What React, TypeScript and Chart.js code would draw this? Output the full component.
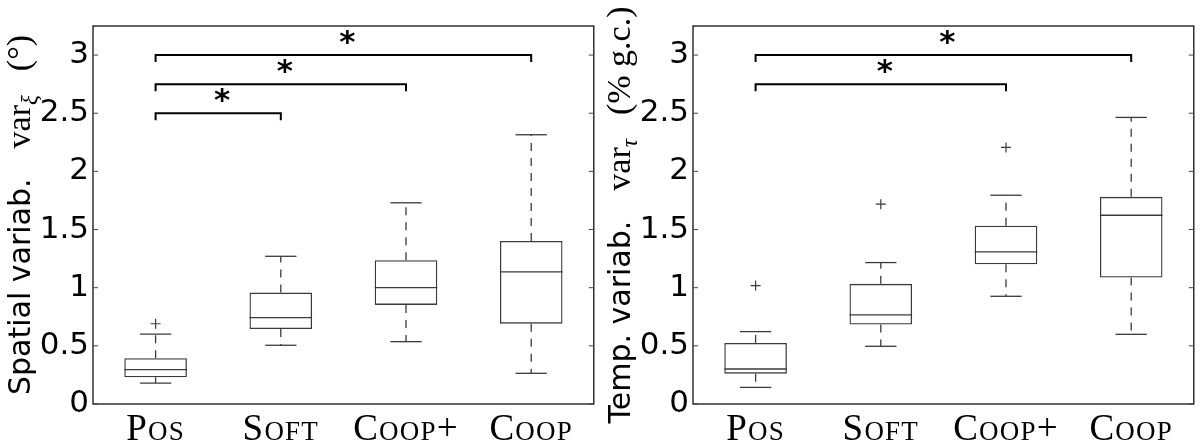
import React, { useEffect, useRef } from 'react';
import { Chart, registerables } from 'chart.js';

Chart.register(...registerables);

// ---------- data ----------
const categories = ['Pos', 'Soft', 'Coop+', 'Coop'];
const yTickValues = [0, 0.5, 1, 1.5, 2, 2.5, 3];
const yMin = 0;
const yMax = 3.25;

// Spatial variability (left panel)
const spatialLower = [0.18, 0.505, 0.536, 0.264];
const spatialQ1 = [0.23, 0.645, 0.852, 0.691];
const spatialMedian = [0.295, 0.743, 1.0, 1.136];
const spatialQ3 = [0.393, 0.958, 1.236, 1.402];
const spatialUpper = [0.6, 1.27, 1.73, 2.315];
const spatialOutliers = [{ x: 'Pos', y: 0.69 }];
const spatialSigFrom = [0, 0, 0];
const spatialSigTo = [1, 2, 3];
const spatialSigLevel = [2.5, 2.75, 3.0];
const spatialTitle = ['Spatial variab.', 'var', 'ξ', '(°)'];

// Temporal variability (right panel)
const temporalLower = [0.143, 0.496, 0.926, 0.599];
const temporalQ1 = [0.261, 0.683, 1.202, 1.087];
const temporalMedian = [0.301, 0.766, 1.308, 1.623];
const temporalQ3 = [0.525, 1.033, 1.532, 1.781];
const temporalUpper = [0.622, 1.216, 1.795, 2.464];
const temporalOutliers = [
  { x: 'Pos', y: 1.018 },
  { x: 'Soft', y: 1.718 },
  { x: 'Coop+', y: 2.206 },
];
const temporalSigFrom = [0, 0];
const temporalSigTo = [2, 3];
const temporalSigLevel = [2.75, 3.0];
const temporalTitle = ['Temp. variab.', 'var', 'τ', '(% g.c.)'];

// ---------- styles ----------
const BOX_COLOR = '#3a3a3a';
const SANS = "'DejaVu Sans', sans-serif";
const SERIF = "'Liberation Serif', serif";

function line(ctx: CanvasRenderingContext2D, x1: number, y1: number, x2: number, y2: number) {
  ctx.beginPath();
  ctx.moveTo(x1, y1);
  ctx.lineTo(x2, y2);
  ctx.stroke();
}

// draw a label in synthesized small caps, centred on cx
function drawSmallCaps(ctx: CanvasRenderingContext2D, text: string, cx: number, baseline: number) {
  const big = `37px ${SERIF}`;
  const small = `27px ${SERIF}`;
  const segs = Array.from(text).map((ch) => {
    const isLower = ch.toLowerCase() === ch && ch.toUpperCase() !== ch;
    return { ch: isLower ? ch.toUpperCase() : ch, font: isLower ? small : big };
  });
  let total = 0;
  const ws: number[] = [];
  for (const s of segs) {
    ctx.font = s.font;
    const w = ctx.measureText(s.ch).width + 1.2;
    ws.push(w);
    total += w;
  }
  let x = cx - total / 2;
  ctx.textAlign = 'left';
  ctx.textBaseline = 'alphabetic';
  segs.forEach((s, i) => {
    ctx.font = s.font;
    ctx.fillText(s.ch, x, baseline);
    x += ws[i];
  });
}

const decorPlugin = {
  id: 'decor',
  afterDatasetsDraw(chart: any) {
    const o = chart.options.plugins.decor;
    const { ctx, chartArea: ca } = chart;
    const xs = chart.scales.x;
    const ys = chart.scales.y;
    const catW = (ca.right - ca.left) / categories.length;
    ctx.save();
    ctx.strokeStyle = BOX_COLOR;
    ctx.lineWidth = 1.3;
    for (let i = 0; i < categories.length; i++) {
      const cx = xs.getPixelForValue(i);
      const half = catW * 0.25;
      const capHalf = catW * 0.125;
      ctx.setLineDash([]);
      line(ctx, cx - half, ys.getPixelForValue(o.median[i]), cx + half, ys.getPixelForValue(o.median[i]));
      line(ctx, cx - capHalf, ys.getPixelForValue(o.lower[i]), cx + capHalf, ys.getPixelForValue(o.lower[i]));
      line(ctx, cx - capHalf, ys.getPixelForValue(o.upper[i]), cx + capHalf, ys.getPixelForValue(o.upper[i]));
      ctx.setLineDash([8, 7]);
      line(ctx, cx, ys.getPixelForValue(o.q3[i]), cx, ys.getPixelForValue(o.upper[i]));
      line(ctx, cx, ys.getPixelForValue(o.q1[i]), cx, ys.getPixelForValue(o.lower[i]));
    }
    ctx.restore();
  },
  afterDraw(chart: any) {
    const o = chart.options.plugins.decor;
    const { ctx, chartArea: ca } = chart;
    const xs = chart.scales.x;
    const ys = chart.scales.y;
    ctx.save();
    // frame
    ctx.setLineDash([]);
    ctx.strokeStyle = '#111';
    ctx.lineWidth = 1.3;
    ctx.strokeRect(ca.left, ca.top, ca.right - ca.left, ca.bottom - ca.top);
    // inward y ticks on both sides
    ctx.strokeStyle = '#444';
    ctx.lineWidth = 1;
    for (const t of yTickValues) {
      const py = ys.getPixelForValue(t);
      line(ctx, ca.left, py, ca.left + 5, py);
      line(ctx, ca.right - 5, py, ca.right, py);
    }
    // category labels (small caps)
    ctx.fillStyle = '#000';
    categories.forEach((c, i) => {
      drawSmallCaps(ctx, c, xs.getPixelForValue(i), 440);
    });
    // significance brackets
    ctx.strokeStyle = '#000';
    ctx.lineWidth = 2;
    ctx.fillStyle = '#000';
    ctx.font = `bold 31px ${SANS}`;
    ctx.textAlign = 'center';
    ctx.textBaseline = 'middle';
    for (let k = 0; k < o.sigFrom.length; k++) {
      const x1 = xs.getPixelForValue(o.sigFrom[k]);
      const x2 = xs.getPixelForValue(o.sigTo[k]);
      const py = ys.getPixelForValue(o.sigLevel[k]);
      ctx.beginPath();
      ctx.moveTo(x1, py + 7);
      ctx.lineTo(x1, py);
      ctx.lineTo(x2, py);
      ctx.lineTo(x2, py + 7);
      ctx.stroke();
      ctx.fillText('*', (x1 + x2) / 2 + 4, py - 11);
    }
    // rotated y-axis title
    const parts = [
      { text: o.title[0], font: `30px ${SANS}`, dy: 0, gap: 30 },
      { text: o.title[1], font: `34px ${SERIF}`, dy: 0, gap: 0 },
      { text: o.title[2], font: `italic 23px ${SERIF}`, dy: 7, gap: 24 },
      { text: o.title[3], font: `34px ${SERIF}`, dy: 0, gap: 0 },
    ];
    const cy = (ca.top + ca.bottom) / 2;
    ctx.translate(30, cy);
    ctx.rotate(-Math.PI / 2);
    let total = 0;
    const widths: number[] = [];
    for (const p of parts) {
      ctx.font = p.font;
      const w = ctx.measureText(p.text).width;
      widths.push(w);
      total += w + p.gap;
    }
    let x = -total / 2;
    ctx.textAlign = 'left';
    ctx.textBaseline = 'alphabetic';
    ctx.fillStyle = '#000';
    parts.forEach((p, i) => {
      ctx.font = p.font;
      ctx.fillText(p.text, x, p.dy);
      x += widths[i] + p.gap;
    });
    ctx.restore();
  },
};

type PanelProps = {
  lower: number[];
  q1: number[];
  median: number[];
  q3: number[];
  upper: number[];
  outliers: { x: string; y: number }[];
  sigFrom: number[];
  sigTo: number[];
  sigLevel: number[];
  title: string[];
};

function BoxPanel(props: PanelProps) {
  const ref = useRef<HTMLCanvasElement | null>(null);
  useEffect(() => {
    if (!ref.current) return;
    const chart = new Chart(ref.current, {
      type: 'bar',
      data: {
        labels: categories,
        datasets: [
          {
            type: 'bar',
            data: props.q1.map((v, i) => [v, props.q3[i]]),
            backgroundColor: 'rgba(0,0,0,0)',
            borderColor: BOX_COLOR,
            borderWidth: 1.3,
            borderSkipped: false,
            barPercentage: 0.5,
            categoryPercentage: 1,
          } as any,
          {
            type: 'scatter',
            data: props.outliers as any,
            pointStyle: 'cross',
            pointRadius: 5,
            pointBorderWidth: 1.2,
            pointBorderColor: BOX_COLOR,
            pointBackgroundColor: BOX_COLOR,
          } as any,
        ],
      },
      options: {
        animation: false,
        responsive: false,
        events: [],
        layout: { padding: { left: 0, right: 3, top: 26, bottom: 0 } },
        plugins: {
          legend: { display: false },
          tooltip: { enabled: false },
          decor: props,
        } as any,
        scales: {
          x: {
            type: 'category',
            offset: true,
            grid: { display: false, drawTicks: false },
            border: { display: false },
            ticks: { display: false },
            afterFit: (s: any) => {
              s.height = 42;
            },
          },
          y: {
            type: 'linear',
            min: yMin,
            max: yMax,
            grid: { display: false, drawTicks: false },
            border: { display: false },
            ticks: {
              stepSize: 0.5,
              color: '#000',
              padding: 4,
              font: { family: SANS, size: 31 },
              callback: (v: any) => String(Number(v)),
            },
            afterBuildTicks: (s: any) => {
              s.ticks = yTickValues.map((v) => ({ value: v }));
            },
            afterFit: (s: any) => {
              s.width = 93;
            },
          },
        },
      } as any,
      plugins: [decorPlugin],
    });
    return () => chart.destroy();
  }, []);
  return <canvas ref={ref} width={600} height={446} style={{ display: 'block' }} />;
}

export default function App() {
  useEffect(() => {
    document.body.style.margin = '0';
    document.body.style.background = '#fff';
  }, []);
  return (
    <div style={{ display: 'flex', width: 1200, height: 446, background: '#fff' }}>
      <BoxPanel
        lower={spatialLower}
        q1={spatialQ1}
        median={spatialMedian}
        q3={spatialQ3}
        upper={spatialUpper}
        outliers={spatialOutliers}
        sigFrom={spatialSigFrom}
        sigTo={spatialSigTo}
        sigLevel={spatialSigLevel}
        title={spatialTitle}
      />
      <BoxPanel
        lower={temporalLower}
        q1={temporalQ1}
        median={temporalMedian}
        q3={temporalQ3}
        upper={temporalUpper}
        outliers={temporalOutliers}
        sigFrom={temporalSigFrom}
        sigTo={temporalSigTo}
        sigLevel={temporalSigLevel}
        title={temporalTitle}
      />
    </div>
  );
}
